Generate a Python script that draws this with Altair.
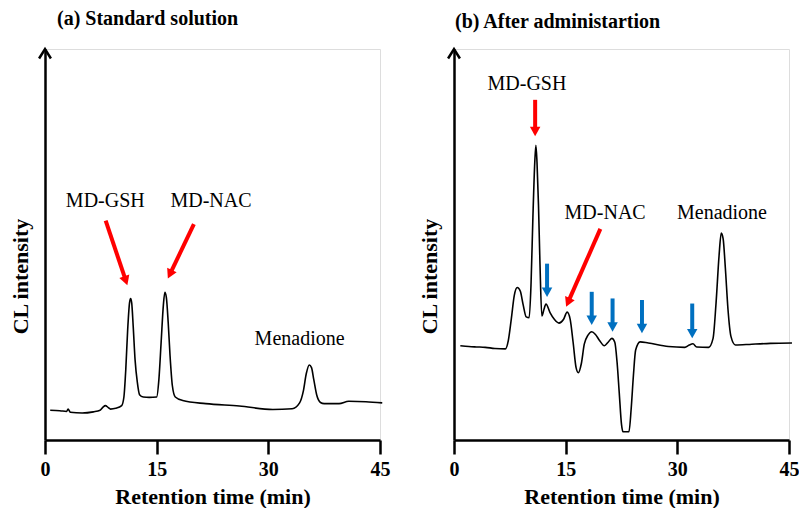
import math
import altair as alt
import pandas as pd

FONT = "Liberation Serif"

# ---- data ----
# (a) Standard solution trace: retention time (min), CL intensity (arb.)
a_t = [0.7, 2.0, 2.9, 3.1, 3.4, 5.0, 6.5, 7.4, 7.8, 8.1, 8.5, 8.8, 9.5, 10.3, 10.6, 10.85,
       11.1, 11.35, 11.5, 11.65, 11.85, 12.1, 12.4, 12.7, 13.2, 14.0, 15.0, 15.3, 15.6, 15.9,
       16.1, 16.3, 16.55, 16.8, 17.1, 17.5, 18.5, 21.6, 26.1, 30.6, 33.2, 34.2, 34.7, 35.1,
       35.5, 35.8, 36.1, 36.5, 37.0, 37.5, 39.5, 40.8, 43.1, 45.3]
a_v = [7.6, 7.5, 7.3, 7.9, 7.1, 6.9, 7.2, 7.6, 8.4, 8.8, 8.3, 7.9, 8.1, 8.8, 11.0, 18.0,
       28.0, 35.0, 36.2, 35.0, 29.0, 20.5, 14.8, 11.6, 11.0, 10.9, 11.0, 15.5, 25.0, 34.5,
       37.8, 36.5, 30.0, 21.5, 14.0, 11.0, 10.1, 9.3, 8.7, 7.8, 8.0, 9.5, 12.5, 17.0,
       19.2, 18.5, 15.5, 11.5, 9.6, 9.3, 9.3, 9.9, 9.8, 9.5]

# (b) After administration trace
b_t = [0.85, 2.0, 3.0, 4.2, 5.5, 6.9, 7.3, 7.7, 8.1, 8.5, 8.9, 9.3, 9.7, 10.1, 10.35, 10.6,
       10.85, 11.0, 11.15, 11.35, 11.55, 11.8, 12.1, 12.35, 12.9, 13.5, 14.1, 14.7, 15.2,
       15.6, 16.0, 16.4, 16.7, 17.1, 17.5, 18.0, 18.5, 19.0, 19.5, 20.2, 20.7, 21.2, 21.6,
       21.9, 22.2, 22.5, 22.7, 23.5, 23.8, 24.1, 24.4, 25.0, 26.1, 28.8, 31.0, 31.6, 32.1,
       32.6, 34.2, 34.8, 35.2, 35.6, 35.9, 36.15, 36.45, 36.8, 37.2, 37.8, 40.0, 42.5, 45.4]
b_v = [24.1, 23.9, 23.8, 23.7, 23.4, 23.3, 25.5, 31.0, 37.0, 39.0, 38.1, 34.5, 31.5, 31.3,
       40.0, 57.0, 71.0, 75.4, 71.0, 60.0, 45.0, 31.7, 33.5, 34.8, 32.6, 30.8, 29.9, 30.8,
       32.7, 30.9, 25.0, 18.5, 17.2, 19.5, 24.5, 26.8, 27.7, 27.0, 25.6, 24.1, 25.0, 26.0,
       25.0, 20.0, 12.0, 4.0, 2.1, 2.1, 8.0, 16.5, 23.0, 25.1, 24.8, 23.9, 23.7, 24.3, 24.6,
       23.8, 23.7, 26.0, 35.0, 47.0, 52.9, 51.5, 44.0, 33.5, 26.5, 24.3, 24.5, 24.7, 24.8]

# labels: text, retention time of centre, intensity of baseline
a_lab = ["MD-GSH", "MD-NAC", "Menadione"]
a_lab_t = [8.1, 22.3, 34.2]
a_lab_v = [59.5, 59.7, 24.3]
b_lab = ["MD-GSH", "MD-NAC", "Menadione"]
b_lab_t = [9.8, 20.3, 36.0]
b_lab_v = [89.4, 56.4, 56.4]

# arrows: tail (t, v) -> tip (t, v), colour
a_arr_t0 = [8.15, 20.0]
a_arr_v0 = [56.1, 55.2]
a_arr_t1 = [11.06, 16.5]
a_arr_v1 = [39.6, 41.3]
a_arr_c = ["red", "red"]

b_arr_t0 = [10.9, 19.66, 12.5, 18.5, 21.3, 25.25, 32.0]
b_arr_v0 = [87.0, 54.0, 45.1, 37.9, 36.2, 35.8, 34.9]
b_arr_t1 = [10.9, 15.06, 12.5, 18.5, 21.3, 25.25, 32.0]
b_arr_v1 = [77.7, 34.1, 36.6, 29.4, 27.7, 27.3, 26.0]
b_arr_c = ["red", "red", "blue", "blue", "blue", "blue", "blue"]

COLORS = {"red": "#FF0000", "blue": "#0070C0"}

W, H = 335, 391
XMAX, YMAX = 45, 100
HEAD_LEN = 10  # px


def arrow_frame(t0, v0, t1, v1, cols):
    rows = []
    for a, b, c, d, col in zip(t0, v0, t1, v1, cols):
        dx = (c - a) * W / XMAX
        dy = -(d - b) * H / YMAX
        L = math.hypot(dx, dy)
        f = 1 - (HEAD_LEN * 0.6) / L
        ang = math.degrees(math.atan2(-dx, dy)) % 360
        rows.append({"t0": a, "v0": b, "te": a + (c - a) * f, "ve": b + (d - b) * f,
                     "t1": c, "v1": d, "ang": ang, "col": COLORS[col]})
    return pd.DataFrame(rows)


xscale = alt.Scale(domain=[0, XMAX], nice=False, zero=False)
yscale = alt.Scale(domain=[0, YMAX], nice=False, zero=False)

xaxis = alt.Axis(values=[0, 15, 30, 45], tickSize=14, tickWidth=2.5, domainWidth=2.5,
                 domainColor="black", tickColor="black", labelFont=FONT, labelFontSize=20,
                 labelFontWeight="bold", labelColor="black", labelPadding=5,
                 title="Retention time (min)", titleFont=FONT, titleFontSize=22,
                 titleFontWeight="bold", titleColor="black", titlePadding=7, grid=False,
                 labelFlush=False)
yaxis = alt.Axis(labels=False, ticks=False, grid=False, domainWidth=2.5, domainColor="black",
                 title="CL intensity", titleFont=FONT, titleFontSize=22, titleFontWeight="bold",
                 titleColor="black", titleX=-13, titleY=227)


def X(f):
    return alt.X(f, type="quantitative", scale=xscale, axis=xaxis)


def Y(f):
    return alt.Y(f, type="quantitative", scale=yscale, axis=yaxis)


HEAD_PATH = "M0,0L-1,-1.8L1,-1.8Z"
AXIS_HEAD = "M-1,1.6L0,0L1,1.6"


def panel(ts, vs, labs, lab_t, lab_v, arr, title, dx, offset):
    trace = alt.Chart(pd.DataFrame({"t": ts, "v": vs})).mark_line(
        color="black", strokeWidth=1.6, interpolate="monotone").encode(x=X("t"), y=Y("v"))
    shafts = alt.Chart(arr).mark_rule(strokeWidth=4, strokeCap="butt").encode(
        x=X("t0"), y=Y("v0"), x2="te", y2="ve", color=alt.Color("col:N", scale=None))
    heads = alt.Chart(arr).mark_point(shape=HEAD_PATH, filled=True, size=110, opacity=1,
                                      strokeWidth=0).encode(
        x=X("t1"), y=Y("v1"), angle=alt.Angle("ang:Q", scale=None),
        color=alt.Color("col:N", scale=None))
    texts = alt.Chart(pd.DataFrame({"t": lab_t, "v": lab_v, "s": labs})).mark_text(
        font=FONT, fontSize=20, align="center", baseline="alphabetic", color="black").encode(
        x=X("t"), y=Y("v"), text="s:N")
    axhead = alt.Chart(pd.DataFrame({"t": [0], "v": [YMAX]})).mark_point(
        shape=AXIS_HEAD, filled=False, size=140, color="black", strokeWidth=2.5,
        opacity=1).encode(x=X("t"), y=Y("v"))
    return alt.layer(trace, shafts, heads, texts, axhead).properties(
        width=W, height=H,
        title=alt.TitleParams(title, anchor="start", frame="group", dx=dx, offset=offset,
                              font=FONT, fontSize=20, fontWeight="bold", color="black"))


left = panel(a_t, a_v, a_lab, a_lab_t, a_lab_v,
             arrow_frame(a_arr_t0, a_arr_v0, a_arr_t1, a_arr_v1, a_arr_c),
             "(a) Standard solution", 12, 15)
right = panel(b_t, b_v, b_lab, b_lab_t, b_lab_v,
              arrow_frame(b_arr_t0, b_arr_v0, b_arr_t1, b_arr_v1, b_arr_c),
              "(b) After administartion", 1, 12)

chart = alt.hconcat(left, right, spacing=26).properties(
    padding={"left": 0, "top": 0, "right": -1, "bottom": 0}
).configure_view(stroke=None).configure(background="white")

chart.save("out.html", embed_options={"renderer": "svg", "actions": False})
